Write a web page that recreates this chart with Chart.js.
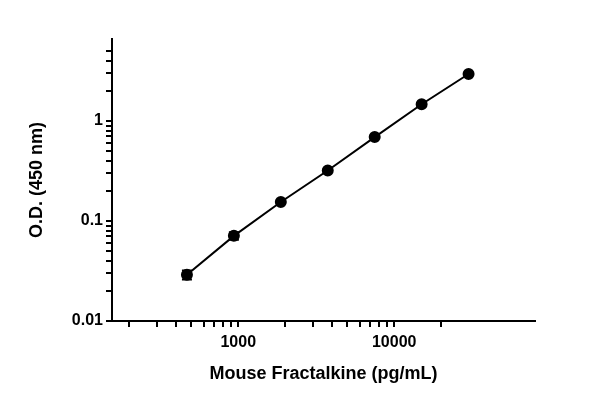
<!DOCTYPE html>
<html>
<head>
<meta charset="utf-8">
<script src="https://cdn.jsdelivr.net/npm/chart.js@4/dist/chart.umd.min.js"></script>
<style>
  html, body { margin: 0; padding: 0; background: #fff; }
  #wrap { width: 600px; height: 409px; }
</style>
</head>
<body>
<div id="wrap"><canvas id="c"></canvas></div>
<script>
// standard curve, pg/mL vs OD
const conc = [468.75, 937.5, 1875, 3750, 7500, 15000, 30000];
const od = [0.029, 0.071, 0.155, 0.32, 0.69, 1.47, 2.95];
const odErr = [0.003, 0.006, 0.004, 0.006, 0.01, 0.02, 0.03];
const xMajor = [1000, 10000];
const xMinor = [200, 300, 400, 500, 600, 700, 800, 900, 2000, 3000, 4000, 5000, 6000, 7000, 8000, 9000, 20000];
const yMajor = [0.01, 0.1, 1];
const yMinor = [0.02, 0.03, 0.04, 0.05, 0.06, 0.07, 0.08, 0.09, 0.2, 0.3, 0.4, 0.5, 0.6, 0.7, 0.8, 0.9, 2, 3, 4, 5];

const font = { family: 'Arial, "Liberation Sans", sans-serif', size: 16, weight: 'bold' };

const errorBars = {
  id: 'errorBars',
  afterDatasetsDraw(chart) {
    const ctx = chart.ctx, x = chart.scales.x, y = chart.scales.y;
    ctx.save();
    ctx.strokeStyle = '#000';
    ctx.lineWidth = 2;
    conc.forEach((c, i) => {
      const px = x.getPixelForValue(c);
      const top = y.getPixelForValue(od[i] + odErr[i]);
      const bot = y.getPixelForValue(od[i] - odErr[i]);
      ctx.beginPath();
      ctx.moveTo(px, top); ctx.lineTo(px, bot);
      ctx.moveTo(px - 5, top); ctx.lineTo(px + 5, top);
      ctx.moveTo(px - 5, bot); ctx.lineTo(px + 5, bot);
      ctx.stroke();
    });
    ctx.restore();
  }
};

function setTicks(major, minor) {
  return function (scale) {
    scale.ticks = major.concat(minor).sort((a, b) => a - b).map(v => ({ value: v, major: major.includes(v) }));
  };
}

new Chart(document.getElementById('c'), {
  type: 'line',
  data: {
    datasets: [{
      data: conc.map((c, i) => ({ x: c, y: od[i] })),
      borderColor: '#000',
      backgroundColor: '#000',
      borderWidth: 2,
      pointRadius: 5,
      pointHoverRadius: 5,
      tension: 0
    }]
  },
  options: {
    responsive: true,
    maintainAspectRatio: false,
    animation: false,
    layout: { padding: { left: 22, right: 65, top: 39, bottom: 20 } },
    plugins: { legend: { display: false }, tooltip: { enabled: false } },
    scales: {
      x: {
        type: 'logarithmic',
        min: 155,
        max: 80000,
        afterBuildTicks: setTicks(xMajor, xMinor),
        afterFit: s => { s.height = 68; },
        border: { color: '#000', width: 2 },
        grid: { drawOnChartArea: false, drawTicks: true, tickLength: 6, color: '#000', lineWidth: 2 },
        ticks: {
          color: '#000', font, autoSkip: false, maxRotation: 0, padding: 6,
          callback: v => xMajor.includes(v) ? String(v) : ''
        },
        title: { display: true, text: 'Mouse Fractalkine (pg/mL)', color: '#000', font: { ...font, size: 18 }, padding: { top: 2 } }
      },
      y: {
        type: 'logarithmic',
        min: 0.01,
        max: 6.6,
        afterBuildTicks: setTicks(yMajor, yMinor),
        afterFit: s => { s.width = 90; },
        border: { color: '#000', width: 2 },
        grid: { drawOnChartArea: false, drawTicks: true, tickLength: 6, color: '#000', lineWidth: 2 },
        ticks: {
          color: '#000', font, autoSkip: false,
          callback: v => yMajor.includes(v) ? String(v) : ''
        },
        title: { display: true, text: 'O.D. (450 nm)', color: '#000', font: { ...font, size: 18 }, padding: { bottom: 4 } }
      }
    }
  },
  plugins: [errorBars]
});
</script>
</body>
</html>
